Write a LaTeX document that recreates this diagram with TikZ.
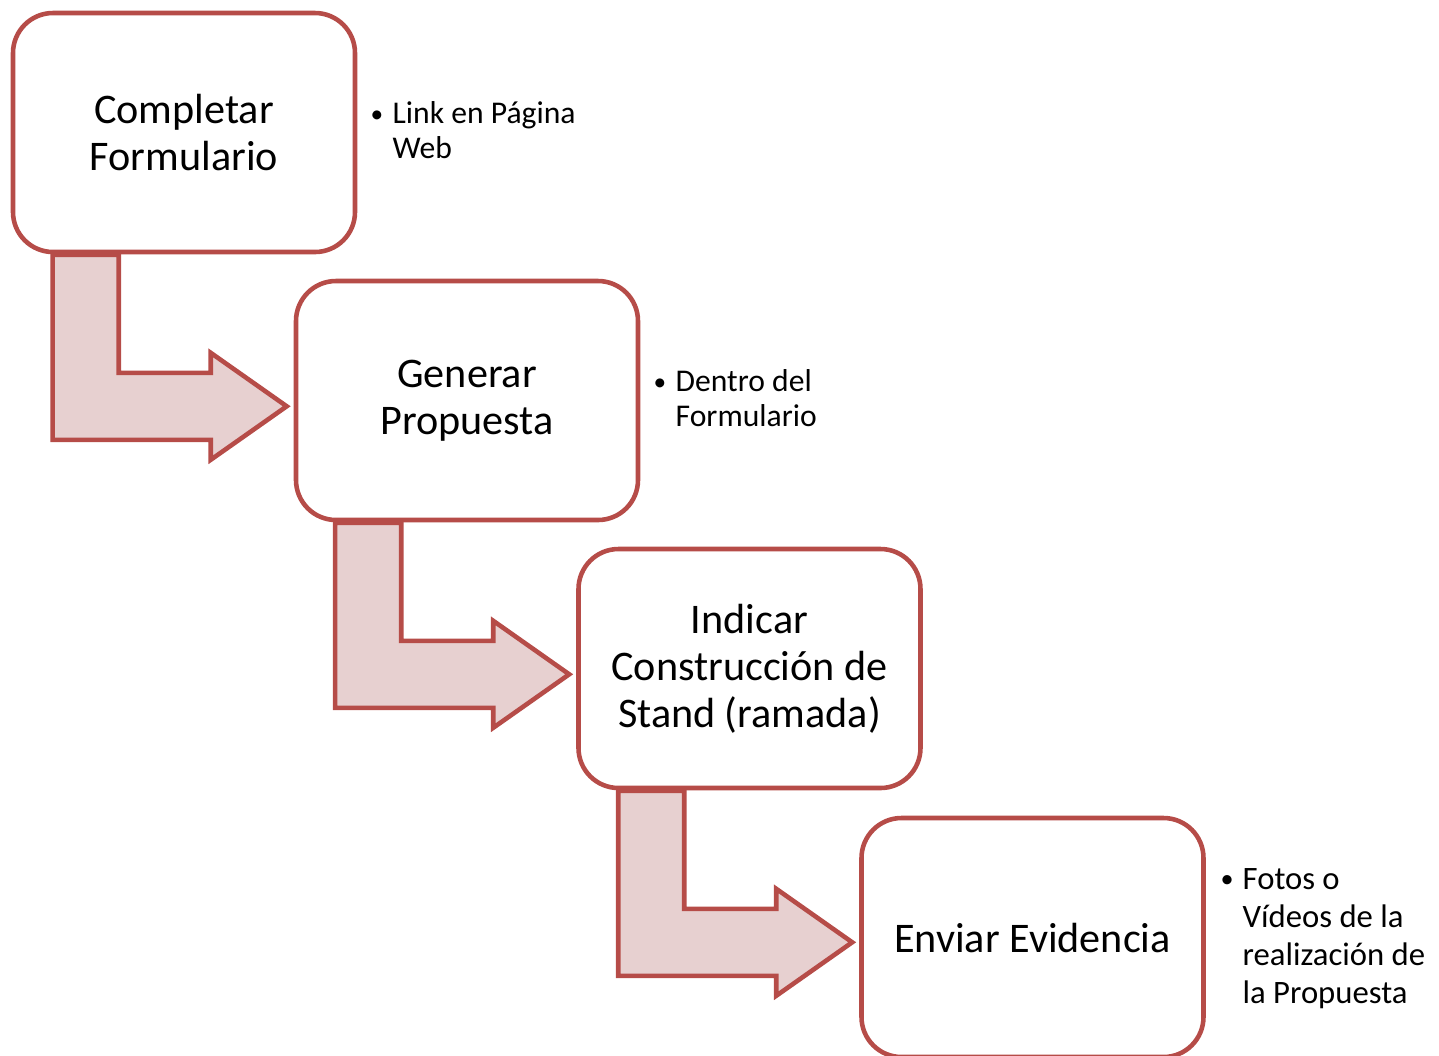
\documentclass[tikz,border=0pt]{standalone}
\usepackage{fontspec}
\setmainfont{Carlito}
\usetikzlibrary{calc}

\definecolor{rojo}{RGB}{182,76,72}
\definecolor{rosa}{RGB}{231,208,208}

\newcommand{\punto}{\raisebox{0.1ex}{\scalebox{0.8}{\textbullet}}}

\tikzset{
  paso/.style={draw=rojo, line width=1.3pt, fill=white, rounded corners=0.4cm,
    minimum width=3.42cm, minimum height=2.39cm, inner sep=0pt, align=center,
    font=\fontsize{12}{13.4}\selectfont},
  flecha/.style={draw=rojo, fill=rosa, line width=1.3pt, line join=miter},
  nota/.style={anchor=base west, inner sep=0pt, font=\fontsize{9}{10}\selectfont}
}

\begin{document}
\begin{tikzpicture}
  \clip (0,0) rectangle (14.39,-10.55);

  % Pasos
  \node[paso] (comp) at (1.84,-1.325) {Completar\\Formulario};
  \node[paso] (gen) at (4.67,-4.005) {Generar\\Propuesta};
  \node[paso] (ind) at (7.495,-6.685) {Indicar\\Construcción de\\Stand (ramada)};
  \node[paso] (env) at (10.325,-9.375) {Enviar Evidencia};

  % Notas
  \node[nota] (n1) at (3.70,-1.235)
    {\begin{tabular}[t]{@{}p{0.22cm}@{}l@{}}\punto & Link en Página\\ & Web\end{tabular}};
  \node[nota] (n2) at (6.53,-3.915)
    {\begin{tabular}[t]{@{}p{0.22cm}@{}l@{}}\punto & Dentro del\\ & Formulario\end{tabular}};
  \node[nota, font=\fontsize{9.3}{10.8}\selectfont] (n3) at (12.20,-8.895)
    {\begin{tabular}[t]{@{}p{0.22cm}@{}l@{}}\punto & Fotos o\\ & Vídeos de la\\ & realización de\\ & la Propuesta\end{tabular}};

  % Flechas
  \foreach \a/\b in {comp/gen, gen/ind, ind/env} {
    \coordinate (t) at ($(\b.west |- \a.south)+(-0.07,-1.52)$);
    \draw[flecha] (t) -- ++(-0.76,0.535) -- ++(0,-0.2) -- ++(-0.92,0)
      -- ++(0,1.18) -- ++(-0.66,0) -- ++(0,-1.85) -- ++(1.58,0)
      -- ++(0,-0.2) -- cycle;
  }
\end{tikzpicture}
\end{document}
